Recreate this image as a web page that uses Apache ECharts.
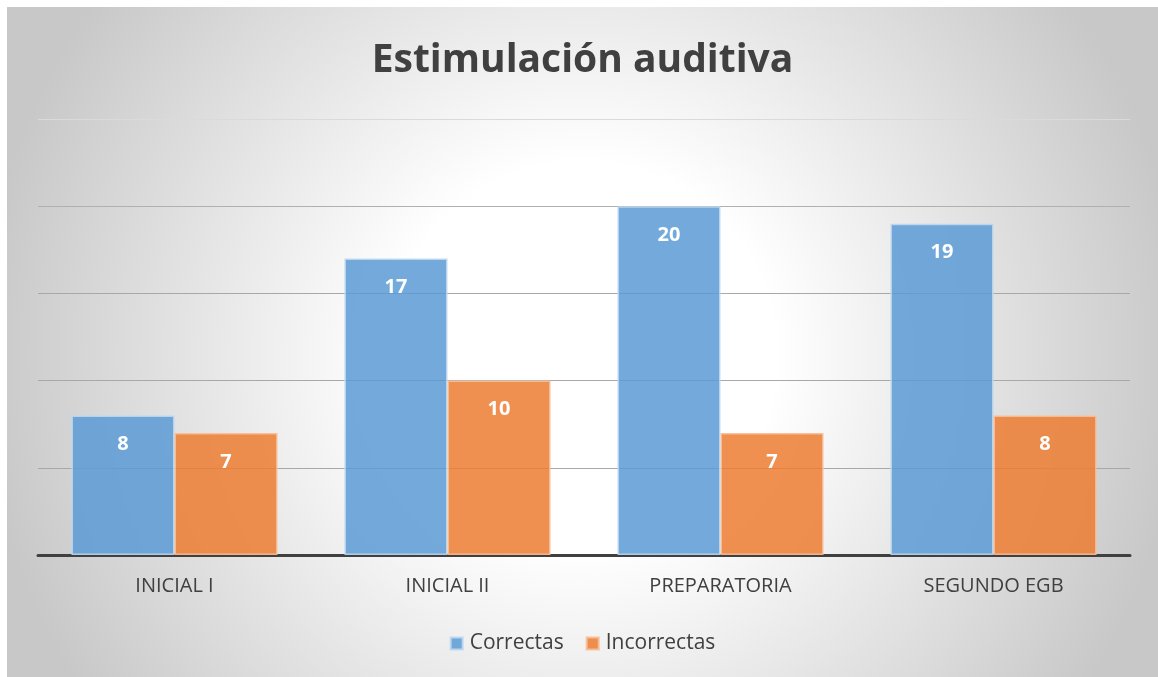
<!DOCTYPE html>
<html><head><meta charset="utf-8">
<script src="https://cdn.jsdelivr.net/npm/echarts@6/dist/echarts.min.js"></script>
<style>html,body{margin:0;padding:0;background:#fff;}#c{position:absolute;left:7px;top:7px;width:1151px;height:670px;}</style>
</head><body><div id="c"></div>
<script>
const categories = ['INICIAL I', 'INICIAL II', 'PREPARATORIA', 'SEGUNDO EGB'];
const correctas = [8, 17, 20, 19];
const incorrectas = [7, 10, 7, 8];
const seriesNames = ['Correctas', 'Incorrectas'];

const chart = echarts.init(document.getElementById('c'));
const font = '"Open Sans", "DejaVu Sans", sans-serif';
const lbl = {show: true, position: 'insideTop', distance: 19, color: '#fff', fontSize: 20, fontWeight: 'bold', fontFamily: font};
chart.setOption({
  backgroundColor: {type: 'radial', x: 0.5, y: 0.52, r: 0.9, colorStops: [{offset: 0, color: '#ffffff'}, {offset: 0.32, color: '#ffffff'}, {offset: 1, color: '#c8c8c8'}]},
  title: {text: 'Estimulación auditiva', left: 'center', top: 29, textStyle: {fontFamily: font, fontSize: 39, fontWeight: 'bold', color: '#404040'}},
  legend: {data: seriesNames, bottom: 18, left: 'center', itemWidth: 12, itemHeight: 12, itemGap: 22, icon: 'rect', textStyle: {fontFamily: font, fontSize: 21, color: '#404040', padding: [0,0,0,2]}},
  grid: {left: 31, right: 28, top: 112, bottom: 122},
  xAxis: {type: 'category', data: categories, axisLine: {lineStyle: {color: '#404040', width: 3}}, axisTick: {show: false},
    axisLabel: {fontFamily: font, fontSize: 20, color: '#404040', margin: 21}},
  yAxis: {type: 'value', min: 0, max: 25, interval: 5, axisLabel: {show: false}, axisLine: {show: false}, axisTick: {show: false},
    splitLine: {lineStyle: {color: ['#a8a8a8','#a8a8a8','#a8a8a8','#a8a8a8','#b0b0b0','#dadada'], width: 1}}},
  series: [
    {name: seriesNames[0], type: 'bar', data: correctas, barGap: '0%', barCategoryGap: '24.5%',
      itemStyle: {color: 'rgba(91,155,213,0.85)', borderColor: 'rgba(189,215,238,0.9)', borderWidth: 1.5}, label: lbl},
    {name: seriesNames[1], type: 'bar', data: incorrectas,
      itemStyle: {color: 'rgba(237,125,49,0.85)', borderColor: 'rgba(248,190,150,0.9)', borderWidth: 1.5}, label: lbl}
  ]
});
</script></body></html>
